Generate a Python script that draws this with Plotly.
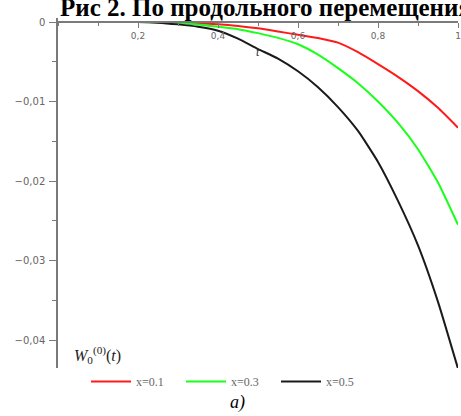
import plotly.graph_objects as go

t = [0.0, 0.05, 0.1, 0.15, 0.2, 0.25, 0.3, 0.35, 0.4, 0.45, 0.5,
     0.55, 0.6, 0.65, 0.7, 0.75, 0.8, 0.85, 0.9, 0.95, 1.0]
w_x01 = [0, 0, 0, 0, 0, -0.00002, -0.00008, -0.00015, -0.00028, -0.0005, -0.0008,
         -0.0012, -0.0016, -0.0020, -0.0026, -0.0038, -0.0053, -0.0069, -0.0087, -0.0108, -0.0133]
w_x03 = [0, 0, 0, 0, 0, -0.00004, -0.00015, -0.0003, -0.0006, -0.0009, -0.0014,
         -0.0020, -0.0028, -0.0041, -0.0058, -0.0077, -0.0100, -0.0127, -0.0160, -0.0202, -0.0255]
w_x05 = [0, 0, 0, 0, 0, -0.00008, -0.0003, -0.0006, -0.0011, -0.0021, -0.0034,
         -0.0046, -0.0062, -0.0082, -0.0107, -0.0137, -0.0176, -0.0225, -0.0281, -0.0352, -0.0436]

series_names = ["x=0.1", "x=0.3", "x=0.5"]
x_tickvals = [0.2, 0.4, 0.6, 0.8, 1.0]
x_ticktext = ["0,2", "0,4", "0,6", "0,8", "1"]
y_tickvals = [0, -0.01, -0.02, -0.03, -0.04]
y_ticktext = ["0", "\u22120,01", "\u22120,02", "\u22120,03", "\u22120,04"]

colors = ["#ff1a1a", "#1aff1a", "#1a1a1a"]

fig = go.Figure()
for name, ys, c in zip(series_names, [w_x01, w_x03, w_x05], colors):
    fig.add_trace(go.Scatter(x=t, y=ys, mode="lines", name=name,
                             line=dict(color=c, width=2, shape="spline", smoothing=0.5)))

W, H = 461, 416
ml, mr = 58, 3
mt, mb = 18, 48
plot_w = W - ml - mr
plot_h = H - mt - mb
px_per_unit = 7950.0
y_top = (22 - mt) / px_per_unit
y_bot = -(368 - 22) / px_per_unit
x_pos = (368 - 22) / plot_h


def px_x(p):
    return (p - ml) / plot_w


def px_y(p):
    return (H - mb - p) / plot_h


axis_col = "#7a7a7a"
x_tick_font = dict(family="DejaVu Sans", size=9, color="#666666")
y_tick_font = dict(family="DejaVu Sans", size=10, color="#666666")

fig.update_layout(
    width=W, height=H,
    margin=dict(l=ml, r=mr, t=mt, b=mb, autoexpand=False),
    paper_bgcolor="white", plot_bgcolor="white",
    showlegend=True,
    legend=dict(orientation="h", x=px_x(86), xanchor="left",
                y=px_y(367), yanchor="top",
                entrywidth=40, font=dict(family="Liberation Serif", size=12, color="#666666"),
                bgcolor="rgba(0,0,0,0)", itemwidth=40),
    xaxis=dict(range=[0, 1], anchor="free", position=x_pos, side="bottom",
               showline=True, linecolor=axis_col, linewidth=1.5,
               showgrid=False, zeroline=False,
               tickmode="array", tickvals=x_tickvals, ticktext=x_ticktext,
               ticks="outside", ticklen=5, tickcolor=axis_col, tickwidth=1,
               tickfont=x_tick_font,
               minor=dict(dtick=0.1, tick0=0, ticks="outside", ticklen=3, tickcolor=axis_col, showgrid=False)),
    yaxis=dict(range=[y_bot, y_top],
               showline=True, linecolor=axis_col, linewidth=1.5,
               showgrid=False, zeroline=False,
               tickmode="array", tickvals=y_tickvals, ticktext=y_ticktext,
               ticks="outside", ticklen=7, tickcolor=axis_col, tickwidth=1,
               tickfont=y_tick_font, ticklabelstandoff=2,
               minor=dict(dtick=0.005, tick0=0, ticks="outside", ticklen=4, tickcolor=axis_col, showgrid=False)),
)

fig.add_annotation(text="<b>Рис 2. По продольного перемещения</b>", xref="paper", yref="paper",
                   x=px_x(58), xanchor="left", y=px_y(-8), yanchor="top",
                   showarrow=False, font=dict(family="Liberation Serif", size=25, color="black"))
fig.add_annotation(text="<i>t</i>", x=0.5, y=-0.0038, xref="x", yref="y", showarrow=False,
                   font=dict(family="Liberation Serif", size=12, color="#333333"))
fig.add_annotation(text="<i>W</i><sub>0</sub><sup>(0)</sup>(<i>t</i>)", xref="paper", yref="paper",
                   x=px_x(72), xanchor="left", y=px_y(355), yanchor="middle",
                   showarrow=False, font=dict(family="Liberation Serif", size=16, color="#222222"))
fig.add_annotation(text="<i>a)</i>", xref="paper", yref="paper",
                   x=px_x(237), xanchor="center", y=px_y(402), yanchor="middle",
                   showarrow=False, font=dict(family="Liberation Serif", size=18, color="black"))

fig.write_html("out.html", config={"displayModeBar": False},
               post_script="document.body.style.margin='0';document.body.style.overflow='hidden';")
